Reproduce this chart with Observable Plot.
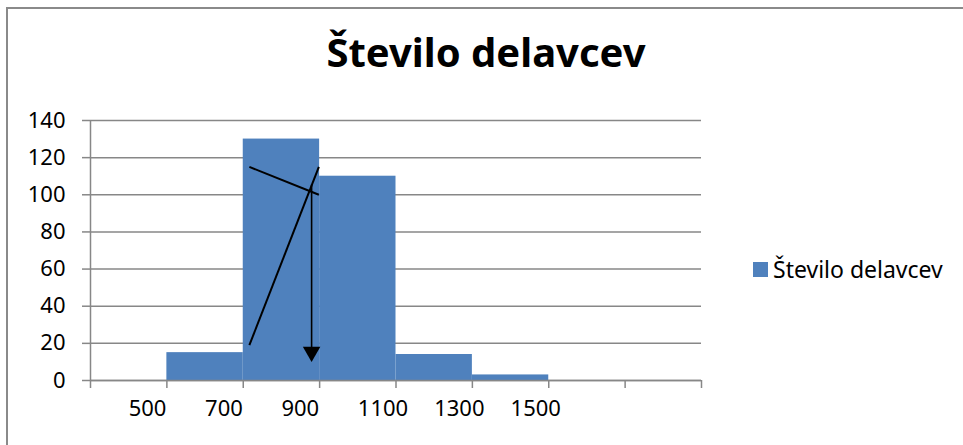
<!DOCTYPE html>
<html>
<head>
<meta charset="utf-8">
<script src="https://cdn.jsdelivr.net/npm/d3@7"></script>
<script src="https://cdn.jsdelivr.net/npm/@observablehq/plot@0.6"></script>
<style>
  html, body { margin: 0; padding: 0; background: #fff; }
  #wrap { position: relative; width: 963px; height: 445px; overflow: hidden; font-family: "Noto Sans", sans-serif; }
  #frame { position: absolute; left: 6px; top: 7px; width: 970px; height: 460px; border-top: 2px solid #8a8a8a; border-left: 2px solid #8a8a8a; box-sizing: border-box; pointer-events: none; }
  #title { position: absolute; left: 0; width: 972px; top: 32px; text-align: center; font-weight: bold; font-size: 40px; color: #000; line-height: 1; }
  #legend { position: absolute; left: 753px; top: 253px; display: flex; align-items: center; font-size: 23px; color: #000; }
  #legend .sw { width: 15px; height: 15px; background: #4F81BD; margin-right: 5px; }
  #chart { position: absolute; left: 0; top: 0; }
</style>
</head>
<body>
<div id="wrap">
  <div id="chart"></div>
  <div id="frame"></div>
  <div id="title">Število delavcev</div>
  <div id="legend"><div class="sw"></div><span>Število delavcev</span></div>
</div>
<script>
// Data
const seriesName = "Število delavcev";
const binStart = [500, 700, 900, 1100, 1300];
const binEnd = [700, 900, 1100, 1300, 1500];
const counts = [15, 130, 110, 14, 3];
const xLabels = [500, 700, 900, 1100, 1300, 1500];
const xBounds = [300, 500, 700, 900, 1100, 1300, 1500, 1700, 1900];
const yTicks = [0, 20, 40, 60, 80, 100, 120, 140];
// hand-drawn mode construction (data units)
const modeLineX1 = [716, 716];
const modeLineY1 = [19, 115];
const modeLineX2 = [898, 898];
const modeLineY2 = [115, 100];
const arrowX = [879];
const arrowTop = [100];
const arrowTip = [10];

const bars = binStart.map((s, i) => ({x1: s, x2: binEnd[i], y: counts[i]}));
const lines = modeLineX1.map((x, i) => ({x1: x, y1: modeLineY1[i], x2: modeLineX2[i], y2: modeLineY2[i]}));
const arrows = arrowX.map((x, i) => ({x, y1: arrowTop[i], y2: arrowTip[i]}));

const gray = "#878787";
const chart = Plot.plot({
  width: 963,
  height: 445,
  marginLeft: 90,
  marginRight: 262,
  marginTop: 120,
  marginBottom: 65,
  style: {fontFamily: "Noto Sans", fontSize: "22px", color: "#000", background: "transparent"},
  x: {type: "linear", domain: [300, 1900]},
  y: {domain: [0, 140]},
  marks: [
    Plot.gridY(yTicks, {stroke: gray, strokeOpacity: 1, strokeWidth: 1.5}),
    Plot.axisY(yTicks, {tickSize: 8, tickPadding: 17, stroke: gray, strokeWidth: 1.5, fontSize: 22, fill: "#000", label: null}),
    Plot.rectY(bars, {x1: "x1", x2: "x2", y: "y", fill: "#4F81BD", inset: 0}),
    Plot.ruleX([300], {y1: 0, y2: 140, stroke: gray, strokeWidth: 1.5}),
    Plot.ruleY([0], {stroke: gray, strokeWidth: 1.5}),
    Plot.axisX(xBounds, {tickSize: 8, stroke: gray, strokeWidth: 1.5, text: null, label: null}),
    Plot.text(xLabels, {x: d => d - 100, text: d => String(d), frameAnchor: "bottom", dy: 35, textAnchor: "start", fontSize: 22, fill: "#000"}),
    Plot.link(lines, {x1: "x1", y1: "y1", x2: "x2", y2: "y2", stroke: "#000", strokeWidth: 2}),
    Plot.link(arrows, {x1: "x", y1: "y1", x2: "x", y2: "y2", stroke: "#000", strokeWidth: 1.6, dy: -10}),
    Plot.dot(arrows, {x: "x", y: "y2", symbol: "triangle", r: 6.5, rotate: 180, fill: "#000", stroke: null, dy: -10})
  ]
});
document.getElementById("chart").appendChild(chart);
</script>
</body>
</html>
